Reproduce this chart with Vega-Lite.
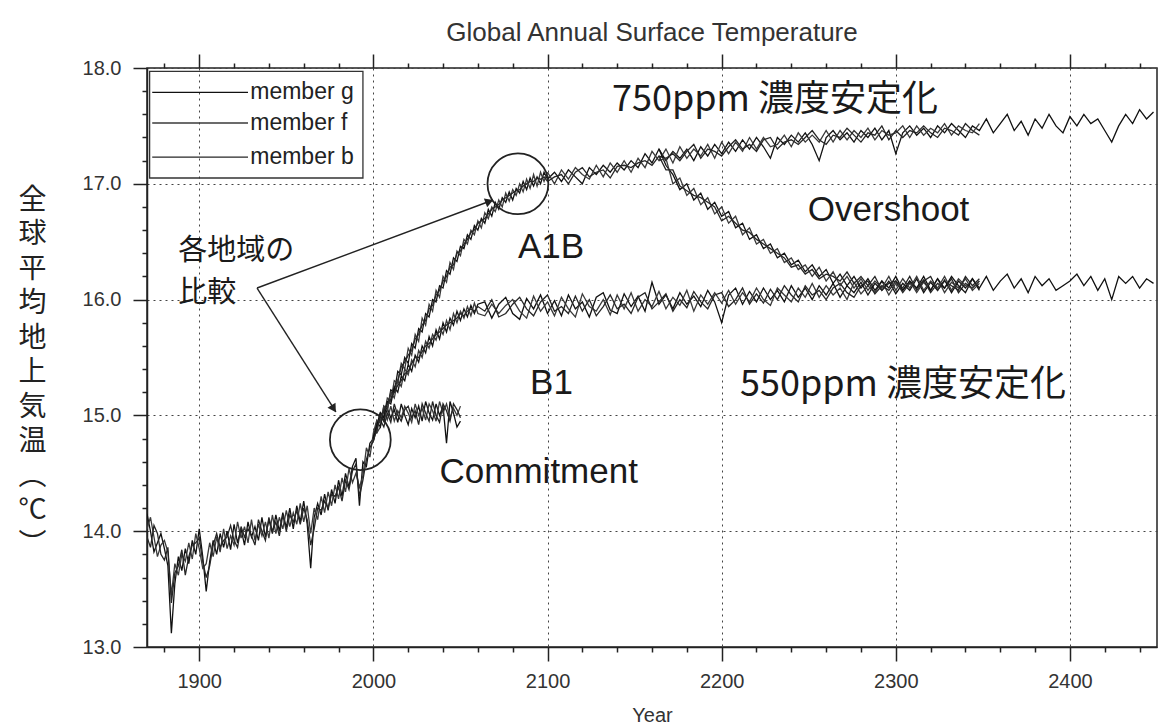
{
  "$schema": "https://vega.github.io/schema/vega-lite/v6.json",
  "width": 1010,
  "height": 579,
  "autosize": {"type": "none"},
  "padding": {"left": 147, "top": 68, "right": 2, "bottom": 77},
  "background": "white",
  "title": {"text": "Global Annual Surface Temperature", "font": "Liberation Sans", "fontSize": 26, "fontWeight": "normal", "color": "#333", "anchor": "middle", "offset": 7},
  "config": {"view": {"stroke": "#222", "strokeWidth": 1.5}, "axis": {"labelOverlap": false}},
  "datasets": {
    "series": [
      {"s":"h","x":1870,"g":14.15,"f":14.02,"b":13.95},
      {"s":"h","x":1872,"g":14.0,"f":14.12,"b":13.86},
      {"s":"h","x":1874,"g":13.82,"f":13.95,"b":14.05},
      {"s":"h","x":1876,"g":13.9,"f":13.78,"b":13.98},
      {"s":"h","x":1878,"g":13.98,"f":13.88,"b":13.8},
      {"s":"h","x":1880,"g":13.85,"f":13.92,"b":13.75},
      {"s":"h","x":1882,"g":13.7,"f":13.82,"b":13.86},
      {"s":"h","x":1884,"g":13.12,"f":13.45,"b":13.38},
      {"s":"h","x":1886,"g":13.55,"f":13.72,"b":13.64},
      {"s":"h","x":1888,"g":13.78,"f":13.62,"b":13.7},
      {"s":"h","x":1890,"g":13.66,"f":13.8,"b":13.84},
      {"s":"h","x":1892,"g":13.85,"f":13.74,"b":13.62},
      {"s":"h","x":1894,"g":13.72,"f":13.9,"b":13.78},
      {"s":"h","x":1896,"g":13.92,"f":13.76,"b":13.88},
      {"s":"h","x":1898,"g":13.8,"f":13.98,"b":13.9},
      {"s":"h","x":1900,"g":14.02,"f":13.85,"b":13.94},
      {"s":"h","x":1902,"g":13.78,"f":13.68,"b":13.74},
      {"s":"h","x":1904,"g":13.48,"f":13.72,"b":13.6},
      {"s":"h","x":1906,"g":13.74,"f":13.9,"b":13.7},
      {"s":"h","x":1908,"g":13.92,"f":13.78,"b":13.88},
      {"s":"h","x":1910,"g":13.8,"f":13.95,"b":13.98},
      {"s":"h","x":1912,"g":13.98,"f":13.82,"b":13.86},
      {"s":"h","x":1914,"g":13.86,"f":14.02,"b":13.92},
      {"s":"h","x":1916,"g":14.0,"f":13.85,"b":13.95},
      {"s":"h","x":1918,"g":13.84,"f":13.96,"b":14.05},
      {"s":"h","x":1920,"g":14.06,"f":13.88,"b":13.92},
      {"s":"h","x":1922,"g":13.9,"f":14.08,"b":13.86},
      {"s":"h","x":1924,"g":14.02,"f":13.94,"b":14.04},
      {"s":"h","x":1926,"g":13.88,"f":14.04,"b":13.95},
      {"s":"h","x":1928,"g":14.08,"f":13.9,"b":14.02},
      {"s":"h","x":1930,"g":13.95,"f":14.1,"b":13.96},
      {"s":"h","x":1932,"g":14.04,"f":13.92,"b":13.88},
      {"s":"h","x":1934,"g":13.92,"f":14.06,"b":14.1},
      {"s":"h","x":1936,"g":14.12,"f":13.96,"b":14.0},
      {"s":"h","x":1938,"g":13.95,"f":14.08,"b":13.92},
      {"s":"h","x":1940,"g":14.1,"f":13.94,"b":14.12},
      {"s":"h","x":1942,"g":13.98,"f":14.14,"b":14.0},
      {"s":"h","x":1944,"g":14.14,"f":13.98,"b":14.08},
      {"s":"h","x":1946,"g":14.0,"f":14.12,"b":13.96},
      {"s":"h","x":1948,"g":14.16,"f":14.02,"b":14.14},
      {"s":"h","x":1950,"g":14.03,"f":14.18,"b":14.0},
      {"s":"h","x":1952,"g":14.2,"f":14.04,"b":14.14},
      {"s":"h","x":1954,"g":14.02,"f":14.16,"b":14.08},
      {"s":"h","x":1956,"g":14.22,"f":14.06,"b":14.18},
      {"s":"h","x":1958,"g":14.08,"f":14.24,"b":14.06},
      {"s":"h","x":1960,"g":14.26,"f":14.08,"b":14.2},
      {"s":"h","x":1962,"g":14.06,"f":14.22,"b":14.1},
      {"s":"h","x":1964,"g":13.68,"f":13.98,"b":13.88},
      {"s":"h","x":1966,"g":14.12,"f":14.2,"b":14.02},
      {"s":"h","x":1968,"g":14.24,"f":14.1,"b":14.2},
      {"s":"h","x":1970,"g":14.14,"f":14.3,"b":14.18},
      {"s":"h","x":1972,"g":14.32,"f":14.16,"b":14.26},
      {"s":"h","x":1974,"g":14.18,"f":14.34,"b":14.2},
      {"s":"h","x":1976,"g":14.36,"f":14.22,"b":14.32},
      {"s":"h","x":1978,"g":14.24,"f":14.4,"b":14.3},
      {"s":"h","x":1980,"g":14.44,"f":14.28,"b":14.38},
      {"s":"h","x":1982,"g":14.3,"f":14.46,"b":14.26},
      {"s":"h","x":1984,"g":14.5,"f":14.34,"b":14.44},
      {"s":"h","x":1986,"g":14.38,"f":14.54,"b":14.36},
      {"s":"h","x":1988,"g":14.56,"f":14.42,"b":14.52},
      {"s":"h","x":1990,"g":14.63,"f":14.5,"b":14.58},
      {"s":"h","x":1992,"g":14.22,"f":14.38,"b":14.3},
      {"s":"h","x":1994,"g":14.6,"f":14.48,"b":14.44},
      {"s":"h","x":1996,"g":14.56,"f":14.72,"b":14.62},
      {"s":"h","x":1998,"g":14.76,"f":14.64,"b":14.72},
      {"s":"h","x":2000,"g":14.8,"f":14.85,"b":14.78},

      {"s":"c","x":2000,"g":14.8,"f":14.85,"b":14.78},
      {"s":"c","x":2002,"g":14.92,"f":14.85,"b":14.95},
      {"s":"c","x":2004,"g":15.02,"f":14.9,"b":14.96},
      {"s":"c","x":2006,"g":14.95,"f":15.05,"b":14.9},
      {"s":"c","x":2008,"g":15.06,"f":14.96,"b":15.02},
      {"s":"c","x":2010,"g":14.98,"f":15.08,"b":14.94},
      {"s":"c","x":2012,"g":15.05,"f":14.95,"b":15.1},
      {"s":"c","x":2014,"g":14.94,"f":15.04,"b":15.0},
      {"s":"c","x":2016,"g":15.1,"f":14.98,"b":14.95},
      {"s":"c","x":2018,"g":15.0,"f":15.08,"b":15.05},
      {"s":"c","x":2020,"g":14.92,"f":15.02,"b":15.08},
      {"s":"c","x":2022,"g":15.06,"f":14.94,"b":14.98},
      {"s":"c","x":2024,"g":14.98,"f":15.1,"b":15.04},
      {"s":"c","x":2026,"g":15.08,"f":15.0,"b":14.92},
      {"s":"c","x":2028,"g":14.95,"f":15.06,"b":15.1},
      {"s":"c","x":2030,"g":15.12,"f":14.96,"b":15.02},
      {"s":"c","x":2032,"g":15.02,"f":15.1,"b":14.95},
      {"s":"c","x":2034,"g":14.96,"f":15.04,"b":15.12},
      {"s":"c","x":2036,"g":15.1,"f":14.95,"b":15.0},
      {"s":"c","x":2038,"g":15.0,"f":15.12,"b":14.94},
      {"s":"c","x":2040,"g":15.08,"f":15.02,"b":15.1},
      {"s":"c","x":2042,"g":14.76,"f":15.1,"b":15.04},
      {"s":"c","x":2044,"g":15.12,"f":14.98,"b":14.95},
      {"s":"c","x":2046,"g":15.02,"f":15.06,"b":15.1},
      {"s":"c","x":2048,"g":14.9,"f":15.0,"b":15.05},
      {"s":"c","x":2050,"g":14.95,"f":15.08,"b":14.98},

      {"s":"a","x":2000,"g":14.8,"f":14.85,"b":14.78},
      {"s":"a","x":2002,"g":14.95,"f":14.85,"b":14.9},
      {"s":"a","x":2004,"g":14.9,"f":15.02,"b":14.96},
      {"s":"a","x":2006,"g":15.08,"f":14.98,"b":15.04},
      {"s":"a","x":2008,"g":15.05,"f":15.15,"b":15.1},
      {"s":"a","x":2010,"g":15.22,"f":15.12,"b":15.18},
      {"s":"a","x":2012,"g":15.2,"f":15.3,"b":15.24},
      {"s":"a","x":2014,"g":15.38,"f":15.28,"b":15.3},
      {"s":"a","x":2016,"g":15.35,"f":15.45,"b":15.42},
      {"s":"a","x":2018,"g":15.5,"f":15.4,"b":15.46},
      {"s":"a","x":2020,"g":15.45,"f":15.58,"b":15.52},
      {"s":"a","x":2022,"g":15.62,"f":15.52,"b":15.56},
      {"s":"a","x":2024,"g":15.58,"f":15.7,"b":15.66},
      {"s":"a","x":2026,"g":15.75,"f":15.64,"b":15.7},
      {"s":"a","x":2028,"g":15.72,"f":15.84,"b":15.78},
      {"s":"a","x":2030,"g":15.88,"f":15.78,"b":15.82},
      {"s":"a","x":2032,"g":15.85,"f":15.96,"b":15.92},
      {"s":"a","x":2034,"g":16.0,"f":15.9,"b":15.95},
      {"s":"a","x":2036,"g":15.98,"f":16.08,"b":16.04},
      {"s":"a","x":2038,"g":16.12,"f":16.02,"b":16.08},
      {"s":"a","x":2040,"g":16.1,"f":16.2,"b":16.16},
      {"s":"a","x":2042,"g":16.25,"f":16.15,"b":16.2},
      {"s":"a","x":2044,"g":16.22,"f":16.32,"b":16.28},
      {"s":"a","x":2046,"g":16.36,"f":16.26,"b":16.3},
      {"s":"a","x":2048,"g":16.33,"f":16.42,"b":16.4},
      {"s":"a","x":2050,"g":16.46,"f":16.38,"b":16.42},
      {"s":"a","x":2052,"g":16.44,"f":16.52,"b":16.48},
      {"s":"a","x":2054,"g":16.56,"f":16.48,"b":16.52},
      {"s":"a","x":2056,"g":16.52,"f":16.6,"b":16.58},
      {"s":"a","x":2058,"g":16.64,"f":16.56,"b":16.6},
      {"s":"a","x":2060,"g":16.6,"f":16.68,"b":16.66},
      {"s":"a","x":2062,"g":16.7,"f":16.62,"b":16.68},
      {"s":"a","x":2064,"g":16.66,"f":16.75,"b":16.7},
      {"s":"a","x":2066,"g":16.78,"f":16.7,"b":16.74},
      {"s":"a","x":2068,"g":16.72,"f":16.8,"b":16.78},
      {"s":"a","x":2070,"g":16.84,"f":16.76,"b":16.8},
      {"s":"a","x":2072,"g":16.78,"f":16.86,"b":16.82},
      {"s":"a","x":2074,"g":16.88,"f":16.8,"b":16.86},
      {"s":"a","x":2076,"g":16.84,"f":16.92,"b":16.88},
      {"s":"a","x":2078,"g":16.93,"f":16.85,"b":16.9},
      {"s":"a","x":2080,"g":16.86,"f":16.95,"b":16.92},
      {"s":"a","x":2082,"g":16.96,"f":16.9,"b":16.94},
      {"s":"a","x":2084,"g":16.92,"f":17.0,"b":16.95},
      {"s":"a","x":2086,"g":17.02,"f":16.93,"b":16.98},
      {"s":"a","x":2088,"g":16.95,"f":17.04,"b":17.0},
      {"s":"a","x":2090,"g":17.05,"f":16.96,"b":17.02},
      {"s":"a","x":2092,"g":16.98,"f":17.08,"b":17.02},
      {"s":"a","x":2094,"g":17.06,"f":16.98,"b":17.05},
      {"s":"a","x":2096,"g":17.0,"f":17.1,"b":17.04},
      {"s":"a","x":2098,"g":17.1,"f":17.02,"b":17.06},
      {"s":"a","x":2100,"g":17.04,"f":17.1,"b":17.02},

      {"s":"b1","x":2000,"g":14.8,"f":14.85,"b":14.78},
      {"s":"b1","x":2002,"g":14.9,"f":14.96,"b":14.88},
      {"s":"b1","x":2004,"g":15.02,"f":14.94,"b":15.0},
      {"s":"b1","x":2006,"g":14.98,"f":15.08,"b":15.04},
      {"s":"b1","x":2008,"g":15.12,"f":15.04,"b":15.1},
      {"s":"b1","x":2010,"g":15.1,"f":15.2,"b":15.14},
      {"s":"b1","x":2012,"g":15.24,"f":15.15,"b":15.2},
      {"s":"b1","x":2014,"g":15.2,"f":15.3,"b":15.26},
      {"s":"b1","x":2016,"g":15.34,"f":15.25,"b":15.3},
      {"s":"b1","x":2018,"g":15.3,"f":15.4,"b":15.36},
      {"s":"b1","x":2020,"g":15.44,"f":15.35,"b":15.38},
      {"s":"b1","x":2022,"g":15.38,"f":15.48,"b":15.45},
      {"s":"b1","x":2024,"g":15.52,"f":15.42,"b":15.5},
      {"s":"b1","x":2026,"g":15.46,"f":15.56,"b":15.5},
      {"s":"b1","x":2028,"g":15.6,"f":15.5,"b":15.55},
      {"s":"b1","x":2030,"g":15.54,"f":15.64,"b":15.6},
      {"s":"b1","x":2032,"g":15.68,"f":15.58,"b":15.62},
      {"s":"b1","x":2034,"g":15.6,"f":15.7,"b":15.66},
      {"s":"b1","x":2036,"g":15.74,"f":15.65,"b":15.7},
      {"s":"b1","x":2038,"g":15.66,"f":15.76,"b":15.72},
      {"s":"b1","x":2040,"g":15.8,"f":15.7,"b":15.75},
      {"s":"b1","x":2042,"g":15.72,"f":15.82,"b":15.78},
      {"s":"b1","x":2044,"g":15.84,"f":15.74,"b":15.8},
      {"s":"b1","x":2046,"g":15.78,"f":15.88,"b":15.82},
      {"s":"b1","x":2048,"g":15.9,"f":15.8,"b":15.84},
      {"s":"b1","x":2050,"g":15.82,"f":15.9,"b":15.88},
      {"s":"b1","x":2052,"g":15.92,"f":15.84,"b":15.86},
      {"s":"b1","x":2054,"g":15.85,"f":15.94,"b":15.9},
      {"s":"b1","x":2056,"g":15.95,"f":15.86,"b":15.92},
      {"s":"b1","x":2058,"g":15.88,"f":15.97,"b":15.9},
      {"s":"b1","x":2060,"g":15.96,"f":15.88,"b":15.94},
      {"s":"b1","x":2064,"g":15.98,"f":15.86,"b":15.9},
      {"s":"b1","x":2068,"g":15.84,"f":15.96,"b":16.0},
      {"s":"b1","x":2072,"g":15.96,"f":15.88,"b":15.85},
      {"s":"b1","x":2076,"g":16.02,"f":15.95,"b":15.88},
      {"s":"b1","x":2080,"g":15.88,"f":16.0,"b":15.96},
      {"s":"b1","x":2084,"g":15.83,"f":15.9,"b":16.02},
      {"s":"b1","x":2088,"g":16.01,"f":15.84,"b":15.92},
      {"s":"b1","x":2092,"g":15.92,"f":16.03,"b":15.86},
      {"s":"b1","x":2096,"g":16.04,"f":15.9,"b":15.98},
      {"s":"b1","x":2100,"g":15.88,"f":15.98,"b":16.04},
      {"s":"b1","x":2104,"g":15.99,"f":15.86,"b":15.9},
      {"s":"b1","x":2108,"g":15.86,"f":16.02,"b":15.94},
      {"s":"b1","x":2112,"g":16.04,"f":15.92,"b":15.88},
      {"s":"b1","x":2116,"g":15.92,"f":15.85,"b":16.03},
      {"s":"b1","x":2120,"g":15.98,"f":16.05,"b":15.9},
      {"s":"b1","x":2124,"g":15.85,"f":15.94,"b":16.0},
      {"s":"b1","x":2128,"g":16.02,"f":15.9,"b":15.86},
      {"s":"b1","x":2132,"g":16.06,"f":16.0,"b":15.94},
      {"s":"b1","x":2136,"g":15.91,"f":15.87,"b":16.04},
      {"s":"b1","x":2140,"g":15.88,"f":16.04,"b":15.92},
      {"s":"b1","x":2144,"g":16.05,"f":15.92,"b":15.96},
      {"s":"b1","x":2148,"g":15.94,"f":16.06,"b":15.88},
      {"s":"b1","x":2152,"g":16.03,"f":15.9,"b":16.02},
      {"s":"b1","x":2156,"g":15.9,"f":16.0,"b":16.06},
      {"s":"b1","x":2160,"g":16.15,"f":15.94,"b":15.92},
      {"s":"b1","x":2164,"g":15.96,"f":16.07,"b":15.98},
      {"s":"b1","x":2168,"g":16.04,"f":15.92,"b":16.05},
      {"s":"b1","x":2172,"g":15.92,"f":16.02,"b":15.9},
      {"s":"b1","x":2176,"g":16.06,"f":15.95,"b":16.0},
      {"s":"b1","x":2180,"g":15.96,"f":16.08,"b":15.93},
      {"s":"b1","x":2184,"g":16.03,"f":15.9,"b":16.07},
      {"s":"b1","x":2188,"g":15.94,"f":16.04,"b":15.98},
      {"s":"b1","x":2192,"g":16.08,"f":15.96,"b":15.92},
      {"s":"b1","x":2196,"g":15.98,"f":16.06,"b":16.04},
      {"s":"b1","x":2200,"g":15.8,"f":15.97,"b":16.06},
      {"s":"b1","x":2204,"g":16.04,"f":16.08,"b":15.94},
      {"s":"b1","x":2208,"g":16.1,"f":15.96,"b":16.0},
      {"s":"b1","x":2212,"g":15.96,"f":16.06,"b":16.1},
      {"s":"b1","x":2216,"g":16.07,"f":15.98,"b":15.96},
      {"s":"b1","x":2220,"g":15.98,"f":16.1,"b":16.05},
      {"s":"b1","x":2224,"g":16.1,"f":16.0,"b":15.97},
      {"s":"b1","x":2228,"g":16.0,"f":15.95,"b":16.09},
      {"s":"b1","x":2232,"g":16.08,"f":16.1,"b":16.0},
      {"s":"b1","x":2236,"g":15.98,"f":16.04,"b":16.12},
      {"s":"b1","x":2240,"g":16.12,"f":15.98,"b":16.04},
      {"s":"b1","x":2244,"g":16.02,"f":16.1,"b":15.98},
      {"s":"b1","x":2248,"g":16.1,"f":16.02,"b":16.12},
      {"s":"b1","x":2252,"g":16.0,"f":16.14,"b":16.04},
      {"s":"b1","x":2256,"g":16.12,"f":16.02,"b":16.08},
      {"s":"b1","x":2260,"g":16.04,"f":16.12,"b":16.0},
      {"s":"b1","x":2264,"g":16.14,"f":16.04,"b":16.1},
      {"s":"b1","x":2268,"g":16.02,"f":16.1,"b":16.14},
      {"s":"b1","x":2272,"g":16.12,"f":16.0,"b":16.06},
      {"s":"b1","x":2276,"g":16.06,"f":16.15,"b":16.02},
      {"s":"b1","x":2280,"g":16.15,"f":16.05,"b":16.12},
      {"s":"b1","x":2284,"g":16.04,"f":16.12,"b":16.16},
      {"s":"b1","x":2288,"g":16.14,"f":16.06,"b":16.05},
      {"s":"b1","x":2292,"g":16.08,"f":16.16,"b":16.12},
      {"s":"b1","x":2296,"g":16.16,"f":16.04,"b":16.08},
      {"s":"b1","x":2300,"g":16.05,"f":16.14,"b":16.16},
      {"s":"b1","x":2304,"g":16.14,"f":16.08,"b":16.06},
      {"s":"b1","x":2308,"g":16.08,"f":16.16,"b":16.14},
      {"s":"b1","x":2312,"g":16.18,"f":16.06,"b":16.1},
      {"s":"b1","x":2316,"g":16.06,"f":16.15,"b":16.17},
      {"s":"b1","x":2320,"g":16.15,"f":16.08,"b":16.06},
      {"s":"b1","x":2324,"g":16.08,"f":16.18,"b":16.14},
      {"s":"b1","x":2328,"g":16.17,"f":16.06,"b":16.1},
      {"s":"b1","x":2332,"g":16.06,"f":16.15,"b":16.18},
      {"s":"b1","x":2336,"g":16.16,"f":16.1,"b":16.06},
      {"s":"b1","x":2340,"g":16.1,"f":16.18,"b":16.14},
      {"s":"b1","x":2344,"g":16.18,"f":16.08,"b":16.1},
      {"s":"b1","x":2348,"g":16.08,"f":16.14,"b":16.16},

      {"s":"s750","x":2100,"g":17.04,"f":17.1,"b":17.02},
      {"s":"s750","x":2104,"g":17.1,"f":17.0,"b":17.06},
      {"s":"s750","x":2108,"g":17.02,"f":17.12,"b":17.08},
      {"s":"s750","x":2112,"g":17.12,"f":17.04,"b":17.0},
      {"s":"s750","x":2116,"g":17.06,"f":17.14,"b":17.1},
      {"s":"s750","x":2120,"g":17.0,"f":17.08,"b":17.14},
      {"s":"s750","x":2124,"g":17.14,"f":17.04,"b":17.06},
      {"s":"s750","x":2128,"g":17.08,"f":17.16,"b":17.1},
      {"s":"s750","x":2132,"g":17.16,"f":17.06,"b":17.12},
      {"s":"s750","x":2136,"g":17.1,"f":17.18,"b":17.05},
      {"s":"s750","x":2140,"g":17.18,"f":17.1,"b":17.15},
      {"s":"s750","x":2144,"g":17.12,"f":17.2,"b":17.16},
      {"s":"s750","x":2148,"g":17.2,"f":17.1,"b":17.14},
      {"s":"s750","x":2152,"g":17.14,"f":17.22,"b":17.18},
      {"s":"s750","x":2156,"g":17.26,"f":17.14,"b":17.2},
      {"s":"s750","x":2160,"g":17.18,"f":17.28,"b":17.16},
      {"s":"s750","x":2164,"g":17.3,"f":17.2,"b":17.24},
      {"s":"s750","x":2168,"g":17.2,"f":17.3,"b":17.22},
      {"s":"s750","x":2172,"g":17.28,"f":17.18,"b":17.26},
      {"s":"s750","x":2176,"g":17.22,"f":17.32,"b":17.2},
      {"s":"s750","x":2180,"g":17.3,"f":17.22,"b":17.28},
      {"s":"s750","x":2184,"g":17.2,"f":17.3,"b":17.34},
      {"s":"s750","x":2188,"g":17.32,"f":17.24,"b":17.22},
      {"s":"s750","x":2192,"g":17.24,"f":17.34,"b":17.3},
      {"s":"s750","x":2196,"g":17.34,"f":17.22,"b":17.28},
      {"s":"s750","x":2200,"g":17.26,"f":17.36,"b":17.24},
      {"s":"s750","x":2204,"g":17.36,"f":17.26,"b":17.32},
      {"s":"s750","x":2208,"g":17.28,"f":17.36,"b":17.38},
      {"s":"s750","x":2212,"g":17.38,"f":17.28,"b":17.3},
      {"s":"s750","x":2216,"g":17.3,"f":17.4,"b":17.34},
      {"s":"s750","x":2220,"g":17.4,"f":17.3,"b":17.28},
      {"s":"s750","x":2224,"g":17.32,"f":17.4,"b":17.38},
      {"s":"s750","x":2228,"g":17.22,"f":17.32,"b":17.4},
      {"s":"s750","x":2232,"g":17.4,"f":17.34,"b":17.3},
      {"s":"s750","x":2236,"g":17.34,"f":17.42,"b":17.36},
      {"s":"s750","x":2240,"g":17.42,"f":17.32,"b":17.38},
      {"s":"s750","x":2244,"g":17.36,"f":17.44,"b":17.34},
      {"s":"s750","x":2248,"g":17.44,"f":17.36,"b":17.4},
      {"s":"s750","x":2252,"g":17.34,"f":17.42,"b":17.46},
      {"s":"s750","x":2256,"g":17.2,"f":17.36,"b":17.38},
      {"s":"s750","x":2260,"g":17.4,"f":17.46,"b":17.34},
      {"s":"s750","x":2264,"g":17.46,"f":17.36,"b":17.42},
      {"s":"s750","x":2268,"g":17.38,"f":17.46,"b":17.4},
      {"s":"s750","x":2272,"g":17.44,"f":17.38,"b":17.48},
      {"s":"s750","x":2276,"g":17.36,"f":17.46,"b":17.42},
      {"s":"s750","x":2280,"g":17.46,"f":17.4,"b":17.36},
      {"s":"s750","x":2284,"g":17.4,"f":17.48,"b":17.44},
      {"s":"s750","x":2288,"g":17.48,"f":17.38,"b":17.42},
      {"s":"s750","x":2292,"g":17.38,"f":17.46,"b":17.5},
      {"s":"s750","x":2296,"g":17.46,"f":17.42,"b":17.38},
      {"s":"s750","x":2300,"g":17.26,"f":17.44,"b":17.46},
      {"s":"s750","x":2304,"g":17.44,"f":17.5,"b":17.4},
      {"s":"s750","x":2308,"g":17.5,"f":17.4,"b":17.46},
      {"s":"s750","x":2312,"g":17.42,"f":17.5,"b":17.44},
      {"s":"s750","x":2316,"g":17.48,"f":17.42,"b":17.5},
      {"s":"s750","x":2320,"g":17.4,"f":17.48,"b":17.44},
      {"s":"s750","x":2324,"g":17.5,"f":17.44,"b":17.4},
      {"s":"s750","x":2328,"g":17.44,"f":17.52,"b":17.48},
      {"s":"s750","x":2332,"g":17.52,"f":17.42,"b":17.46},
      {"s":"s750","x":2336,"g":17.46,"f":17.5,"b":17.42},
      {"s":"s750","x":2340,"g":17.4,"f":17.46,"b":17.52},
      {"s":"s750","x":2344,"g":17.5,"f":17.44,"b":17.46},
      {"s":"s750","x":2348,"g":17.46,"f":17.52,"b":17.42},
      {"s":"s750","x":2352,"g":17.56},
      {"s":"s750","x":2356,"g":17.44},
      {"s":"s750","x":2360,"g":17.52},
      {"s":"s750","x":2364,"g":17.6},
      {"s":"s750","x":2368,"g":17.46},
      {"s":"s750","x":2372,"g":17.54},
      {"s":"s750","x":2376,"g":17.42},
      {"s":"s750","x":2380,"g":17.56},
      {"s":"s750","x":2384,"g":17.48},
      {"s":"s750","x":2388,"g":17.6},
      {"s":"s750","x":2392,"g":17.5},
      {"s":"s750","x":2396,"g":17.44},
      {"s":"s750","x":2400,"g":17.58},
      {"s":"s750","x":2404,"g":17.5},
      {"s":"s750","x":2408,"g":17.6},
      {"s":"s750","x":2412,"g":17.52},
      {"s":"s750","x":2416,"g":17.56},
      {"s":"s750","x":2420,"g":17.46},
      {"s":"s750","x":2424,"g":17.36},
      {"s":"s750","x":2428,"g":17.5},
      {"s":"s750","x":2432,"g":17.6},
      {"s":"s750","x":2436,"g":17.52},
      {"s":"s750","x":2440,"g":17.64},
      {"s":"s750","x":2444,"g":17.56},
      {"s":"s750","x":2448,"g":17.62},

      {"s":"ov","x":2164,"g":17.3,"f":17.2,"b":17.24},
      {"s":"ov","x":2168,"g":17.16,"f":17.22,"b":17.12},
      {"s":"ov","x":2172,"g":17.08,"f":17.0,"b":17.12},
      {"s":"ov","x":2176,"g":16.95,"f":17.05,"b":16.98},
      {"s":"ov","x":2180,"g":17.0,"f":16.9,"b":16.94},
      {"s":"ov","x":2184,"g":16.86,"f":16.96,"b":16.9},
      {"s":"ov","x":2188,"g":16.92,"f":16.82,"b":16.88},
      {"s":"ov","x":2192,"g":16.78,"f":16.88,"b":16.84},
      {"s":"ov","x":2196,"g":16.84,"f":16.74,"b":16.8},
      {"s":"ov","x":2200,"g":16.72,"f":16.8,"b":16.68},
      {"s":"ov","x":2204,"g":16.76,"f":16.66,"b":16.72},
      {"s":"ov","x":2208,"g":16.62,"f":16.72,"b":16.66},
      {"s":"ov","x":2212,"g":16.66,"f":16.56,"b":16.6},
      {"s":"ov","x":2216,"g":16.52,"f":16.62,"b":16.58},
      {"s":"ov","x":2220,"g":16.56,"f":16.48,"b":16.52},
      {"s":"ov","x":2224,"g":16.44,"f":16.52,"b":16.48},
      {"s":"ov","x":2228,"g":16.48,"f":16.4,"b":16.44},
      {"s":"ov","x":2232,"g":16.36,"f":16.44,"b":16.4},
      {"s":"ov","x":2236,"g":16.4,"f":16.32,"b":16.36},
      {"s":"ov","x":2240,"g":16.3,"f":16.36,"b":16.28},
      {"s":"ov","x":2244,"g":16.34,"f":16.26,"b":16.3},
      {"s":"ov","x":2248,"g":16.24,"f":16.3,"b":16.22},
      {"s":"ov","x":2252,"g":16.3,"f":16.2,"b":16.26},
      {"s":"ov","x":2256,"g":16.2,"f":16.28,"b":16.18},
      {"s":"ov","x":2260,"g":16.26,"f":16.16,"b":16.22},
      {"s":"ov","x":2264,"g":16.14,"f":16.24,"b":16.2},
      {"s":"ov","x":2268,"g":16.22,"f":16.12,"b":16.16},
      {"s":"ov","x":2272,"g":16.12,"f":16.2,"b":16.24},
      {"s":"ov","x":2276,"g":16.2,"f":16.1,"b":16.14},
      {"s":"ov","x":2280,"g":16.1,"f":16.18,"b":16.2},
      {"s":"ov","x":2284,"g":16.18,"f":16.08,"b":16.12},
      {"s":"ov","x":2288,"g":16.08,"f":16.16,"b":16.2},
      {"s":"ov","x":2292,"g":16.16,"f":16.1,"b":16.08},
      {"s":"ov","x":2296,"g":16.1,"f":16.2,"b":16.14},
      {"s":"ov","x":2300,"g":16.2,"f":16.08,"b":16.16},
      {"s":"ov","x":2304,"g":16.08,"f":16.18,"b":16.1},
      {"s":"ov","x":2308,"g":16.16,"f":16.1,"b":16.2},
      {"s":"ov","x":2312,"g":16.1,"f":16.2,"b":16.08},
      {"s":"ov","x":2316,"g":16.2,"f":16.08,"b":16.16},
      {"s":"ov","x":2320,"g":16.08,"f":16.16,"b":16.2},
      {"s":"ov","x":2324,"g":16.18,"f":16.1,"b":16.08},
      {"s":"ov","x":2328,"g":16.1,"f":16.2,"b":16.16},
      {"s":"ov","x":2332,"g":16.2,"f":16.08,"b":16.12},
      {"s":"ov","x":2336,"g":16.12,"f":16.18,"b":16.08},
      {"s":"ov","x":2340,"g":16.06,"f":16.12,"b":16.2},
      {"s":"ov","x":2344,"g":16.18,"f":16.1,"b":16.12},
      {"s":"ov","x":2348,"g":16.1,"f":16.16,"b":16.18},
      {"s":"ov","x":2352,"g":16.2},
      {"s":"ov","x":2356,"g":16.08},
      {"s":"ov","x":2360,"g":16.16},
      {"s":"ov","x":2364,"g":16.22},
      {"s":"ov","x":2368,"g":16.1},
      {"s":"ov","x":2372,"g":16.18},
      {"s":"ov","x":2376,"g":16.06},
      {"s":"ov","x":2380,"g":16.2},
      {"s":"ov","x":2384,"g":16.12},
      {"s":"ov","x":2388,"g":16.18},
      {"s":"ov","x":2392,"g":16.08},
      {"s":"ov","x":2396,"g":16.12},
      {"s":"ov","x":2400,"g":16.16},
      {"s":"ov","x":2404,"g":16.22},
      {"s":"ov","x":2408,"g":16.12},
      {"s":"ov","x":2412,"g":16.2},
      {"s":"ov","x":2416,"g":16.08},
      {"s":"ov","x":2420,"g":16.18},
      {"s":"ov","x":2424,"g":16.0},
      {"s":"ov","x":2428,"g":16.2},
      {"s":"ov","x":2432,"g":16.14},
      {"s":"ov","x":2436,"g":16.2},
      {"s":"ov","x":2440,"g":16.1},
      {"s":"ov","x":2444,"g":16.18},
      {"s":"ov","x":2448,"g":16.14}
    ],
    "legendItems": [
      {"m": "g", "t": "member g", "y": 17.79},
      {"m": "f", "t": "member f", "y": 17.525},
      {"m": "b", "t": "member b", "y": 17.23}
    ],
    "circles": [
      {"x": 2083, "y": 17.0},
      {"x": 1992.5, "y": 14.79}
    ],
    "arrows": [
      {"x": 1933.2, "y": 16.1, "x2": 2068.7, "y2": 16.86},
      {"x": 1933.2, "y": 16.1, "x2": 1978.5, "y2": 15.03}
    ],
    "latinNotes": [
      {"x": 2249.5, "y": 16.77, "t": "Overshoot"},
      {"x": 2083, "y": 16.45, "t": "A1B"},
      {"x": 2090, "y": 15.28, "t": "B1"},
      {"x": 2038, "y": 14.51, "t": "Commitment"}
    ],
    "cjkNotes": [
      {"x": 2137, "y": 17.72, "t": "750ppm 濃度安定化"},
      {"x": 2210.5, "y": 15.26, "t": "550ppm 濃度安定化"}
    ],
    "cjkSmall": [
      {"x": 1888, "y": 16.42, "t": "各地域の"},
      {"x": 1888, "y": 16.06, "t": "比較"}
    ]
  },
  "layer": [
    {
      "data": {"name": "series"},
      "transform": [
        {"fold": ["g", "f", "b"], "as": ["m", "y"]},
        {"filter": "isValid(datum.y)"}
      ],
      "mark": {"type": "line", "strokeWidth": 1.3, "clip": true},
      "encoding": {
        "x": {
          "field": "x", "type": "quantitative",
          "scale": {"domain": [1870, 2450], "nice": false, "zero": false},
          "axis": {
            "orient": "bottom",
            "values": [1880,1900,1920,1940,1960,1980,2000,2020,2040,2060,2080,2100,2120,2140,2160,2180,2200,2220,2240,2260,2280,2300,2320,2340,2360,2380,2400,2420,2440],
            "format": "d",
            "labelOverlap": false,
            "labelExpr": "datum.value % 100 === 0 ? datum.label : ''",
            "tickSize": {"condition": {"test": "datum.value % 100 === 0", "value": 14}, "value": 5},
            "tickColor": "#222", "tickWidth": 1.5,
            "domainColor": "#222", "domainWidth": 1.5,
            "grid": true, "gridColor": "#444", "gridDash": [2, 4], "gridWidth": 1,
            "gridOpacity": {"condition": {"test": "datum.value % 100 === 0", "value": 1}, "value": 0},
            "labelFont": "Liberation Sans", "labelFontSize": 20, "labelColor": "#333", "labelPadding": 10,
            "title": "Year", "titleFont": "Liberation Sans", "titleFontSize": 20, "titleFontWeight": "normal", "titleColor": "#333", "titlePadding": 14
          }
        },
        "y": {
          "field": "y", "type": "quantitative",
          "scale": {"domain": [13, 18], "nice": false, "zero": false},
          "axis": {
            "orient": "left",
            "values": [13,13.2,13.4,13.6,13.8,14,14.2,14.4,14.6,14.8,15,15.2,15.4,15.6,15.8,16,16.2,16.4,16.6,16.8,17,17.2,17.4,17.6,17.8,18],
            "format": ".1f",
            "labelOverlap": false,
            "labelExpr": "datum.value % 1 === 0 ? datum.label : ''",
            "tickSize": {"condition": {"test": "datum.value % 1 === 0", "value": 14}, "value": 5},
            "tickColor": "#222", "tickWidth": 1.5,
            "domainColor": "#222", "domainWidth": 1.5,
            "grid": true, "gridColor": "#444", "gridDash": [2, 4], "gridWidth": 1,
            "gridOpacity": {"condition": {"test": "datum.value % 1 === 0", "value": 1}, "value": 0},
            "labelFont": "Liberation Sans", "labelFontSize": 20, "labelColor": "#333", "labelPadding": 12,
            "title": ["全", "球", "平", "均", "地", "上", "気", "温", "︵", "°C", "︶"],
            "titleAngle": 0, "titleAlign": "center", "titleBaseline": "top",
            "titleX": -115, "titleY": 118,
            "titleFont": "Noto Sans CJK JP", "titleFontSize": 28, "titleFontWeight": "normal",
            "titleLineHeight": 34.5, "titleColor": "#222"
          }
        },
        "detail": {"field": "s"},
        "color": {"field": "m", "type": "nominal", "scale": {"domain": ["g", "f", "b"], "range": ["#111111", "#3a3a3a", "#262626"]}, "legend": null}
      }
    },
    {
      "data": {"values": [{}]},
      "mark": {"type": "rect", "filled": false, "stroke": "#333", "strokeWidth": 1.3},
      "encoding": {
        "x": {"datum": 1871.5, "type": "quantitative", "axis": null},
        "x2": {"datum": 1994},
        "y": {"datum": 17.97, "type": "quantitative", "axis": null},
        "y2": {"datum": 17.05}
      }
    },
    {
      "data": {"name": "legendItems"},
      "mark": {"type": "rule", "strokeWidth": 1.3},
      "encoding": {
        "x": {"datum": 1873, "type": "quantitative", "axis": null},
        "x2": {"datum": 1928},
        "y": {"field": "y", "type": "quantitative", "axis": null},
        "color": {"field": "m", "type": "nominal", "legend": null}
      }
    },
    {
      "data": {"name": "legendItems"},
      "mark": {"type": "text", "align": "left", "baseline": "middle", "font": "Liberation Sans", "fontSize": 23, "color": "#222"},
      "encoding": {
        "x": {"datum": 1929.3, "type": "quantitative", "axis": null},
        "y": {"field": "y", "type": "quantitative", "axis": null},
        "text": {"field": "t"}
      }
    },
    {
      "data": {"name": "circles"},
      "mark": {"type": "point", "shape": "circle", "size": 3700, "filled": false, "stroke": "#222", "strokeWidth": 1.8, "opacity": 1},
      "encoding": {
        "x": {
          "field": "x", "type": "quantitative",
          "axis": {
            "orient": "top", "title": null, "labels": false, "domain": false, "grid": false,
            "values": [1880,1900,1920,1940,1960,1980,2000,2020,2040,2060,2080,2100,2120,2140,2160,2180,2200,2220,2240,2260,2280,2300,2320,2340,2360,2380,2400,2420,2440],
            "tickSize": {"condition": {"test": "datum.value % 100 === 0", "value": 14}, "value": 5},
            "tickColor": "#222", "tickWidth": 1.5
          }
        },
        "y": {"field": "y", "type": "quantitative", "axis": null}
      }
    },
    {
      "data": {"name": "arrows"},
      "mark": {"type": "rule", "stroke": "#222", "strokeWidth": 1.4},
      "encoding": {
        "x": {"field": "x", "type": "quantitative", "axis": null},
        "y": {"field": "y", "type": "quantitative", "axis": null},
        "x2": {"field": "x2"},
        "y2": {"field": "y2"}
      }
    },
    {
      "data": {"values": [{}]},
      "mark": {"type": "point", "shape": "triangle-up", "size": 90, "filled": true, "color": "#222", "opacity": 1, "angle": 69.5},
      "encoding": {
        "x": {"datum": 2066.6, "type": "quantitative", "axis": null},
        "y": {"datum": 16.848, "type": "quantitative", "axis": null}
      }
    },
    {
      "data": {"values": [{}]},
      "mark": {"type": "point", "shape": "triangle-up", "size": 90, "filled": true, "color": "#222", "opacity": 1, "angle": 147.8},
      "encoding": {
        "x": {"datum": 1977.2, "type": "quantitative", "axis": null},
        "y": {"datum": 15.058, "type": "quantitative", "axis": null}
      }
    },
    {
      "data": {"name": "latinNotes"},
      "mark": {"type": "text", "align": "left", "baseline": "middle", "font": "Liberation Sans", "fontSize": 35, "color": "#1a1a1a"},
      "encoding": {
        "x": {"field": "x", "type": "quantitative", "axis": null},
        "y": {"field": "y", "type": "quantitative", "axis": null},
        "text": {"field": "t"}
      }
    },
    {
      "data": {"name": "cjkNotes"},
      "mark": {"type": "text", "align": "left", "baseline": "middle", "font": "Noto Sans CJK JP", "fontSize": 36, "color": "#1a1a1a"},
      "encoding": {
        "x": {"field": "x", "type": "quantitative", "axis": null},
        "y": {"field": "y", "type": "quantitative", "axis": null},
        "text": {"field": "t"}
      }
    },
    {
      "data": {"name": "cjkSmall"},
      "mark": {"type": "text", "align": "left", "baseline": "middle", "font": "Noto Sans CJK JP", "fontSize": 29, "color": "#1a1a1a"},
      "encoding": {
        "x": {"field": "x", "type": "quantitative", "axis": null},
        "y": {"field": "y", "type": "quantitative", "axis": null},
        "text": {"field": "t"}
      }
    }
  ],
  "resolve": {"axis": {"x": "independent", "y": "independent"}}
}
